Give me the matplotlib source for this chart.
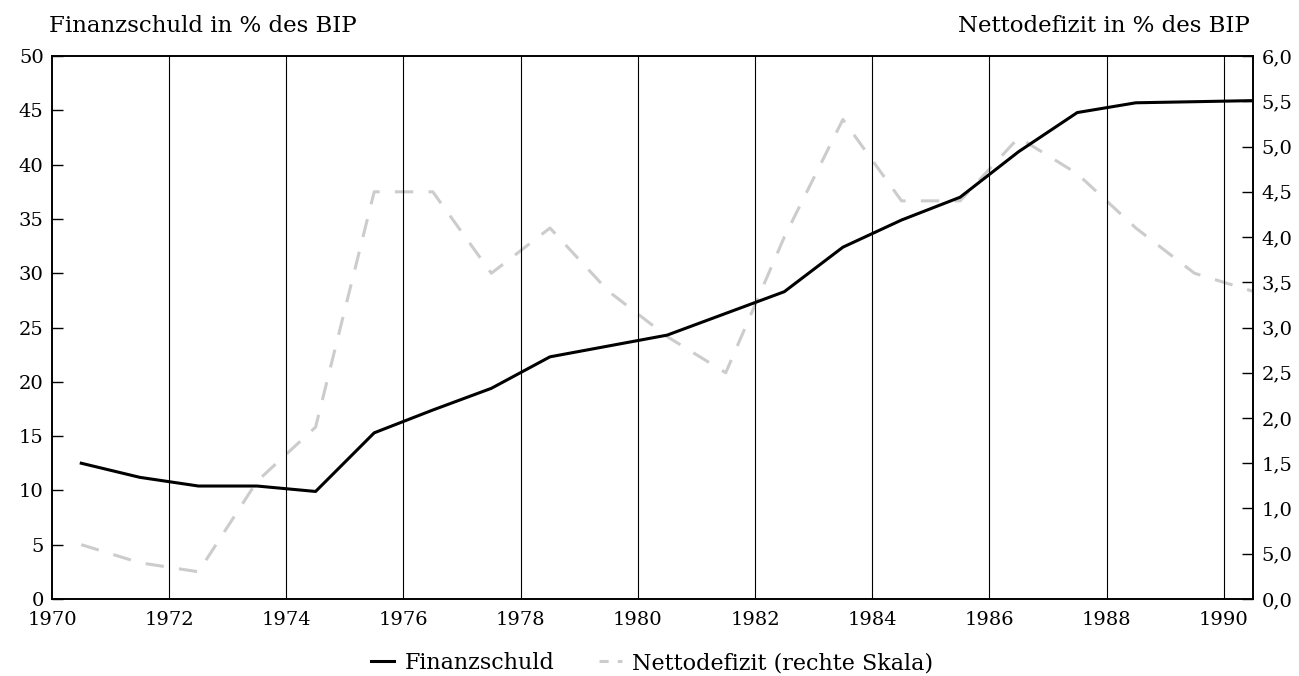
import matplotlib
matplotlib.use("Agg")
import matplotlib.pyplot as plt

plt.rcParams['font.family'] = ['DejaVu Serif']

years = [1970.5 + i for i in range(21)]
finanzschuld = [12.5, 11.2, 10.4, 10.4, 9.9, 15.3, 17.4, 19.4, 22.3, 23.3, 24.3,
                26.3, 28.3, 32.4, 34.9, 37.0, 41.2, 44.8, 45.7, 45.8, 45.9]
nettodefizit = [0.6, 0.4, 0.3, 1.3, 1.9, 4.5, 4.5, 3.6, 4.1, 3.4, 2.9,
                2.5, 4.0, 5.3, 4.4, 4.4, 5.1, 4.7, 4.1, 3.6, 3.4]

left_ticks = [0, 5, 10, 15, 20, 25, 30, 35, 40, 45, 50]
right_ticks = [0, 0.5, 1, 1.5, 2, 2.5, 3, 3.5, 4, 4.5, 5, 5.5, 6]
right_labels = ['0,0', '5,0', '1,0', '1,5', '2,0', '2,5', '3,0', '3,5',
                '4,0', '4,5', '5,0', '5,5', '6,0']
x_ticks = list(range(1970, 1991, 2))

fs = 14

fig = plt.figure(figsize=(12.99, 6.76), dpi=100)
ax = fig.add_axes([0.040, 0.114, 0.9246, 0.803])
ax2 = ax.twinx()

for x in x_ticks[1:]:
    ax.axvline(x, color='black', lw=0.8, zorder=1)

ax2.plot(years, nettodefizit, color='#cccccc', lw=2.2, dashes=(6, 5),
         label='Nettodefizit (rechte Skala)', zorder=2)
ax.plot(years, finanzschuld, color='black', lw=2.2, label='Finanzschuld', zorder=3)
ax.set_zorder(ax2.get_zorder() + 1)
ax.patch.set_visible(False)

ax.set_xlim(1970, 1990.5)
ax.set_ylim(0, 50)
ax2.set_ylim(0, 6)
ax.set_xticks(x_ticks)
ax.set_yticks(left_ticks)
ax2.set_yticks(right_ticks)
ax2.set_yticklabels(right_labels)

ax.tick_params(axis='x', length=0, labelsize=fs, pad=9)
ax.tick_params(axis='y', direction='in', length=8, width=1, labelsize=fs, pad=6)
ax2.tick_params(axis='y', direction='in', length=8, width=1, labelsize=fs, pad=6)
for a in (ax, ax2):
    for s in a.spines.values():
        s.set_linewidth(1.2)

fig.text(0.038, 0.962, 'Finanzschuld in % des BIP', fontsize=16.5, ha='left', va='center')
fig.text(0.962, 0.962, 'Nettodefizit in % des BIP', fontsize=16.5, ha='right', va='center')

h1, l1 = ax.get_legend_handles_labels()
h2, l2 = ax2.get_legend_handles_labels()
leg = fig.legend(h1 + h2, l1 + l2, loc='center', bbox_to_anchor=(0.502, 0.019), ncol=2,
                 frameon=False, fontsize=16, handlelength=1.05, columnspacing=2.0,
                 handletextpad=0.45)
leg.get_lines()[1].set_dashes((3, 3))

fig.savefig('out.png', dpi=100)
